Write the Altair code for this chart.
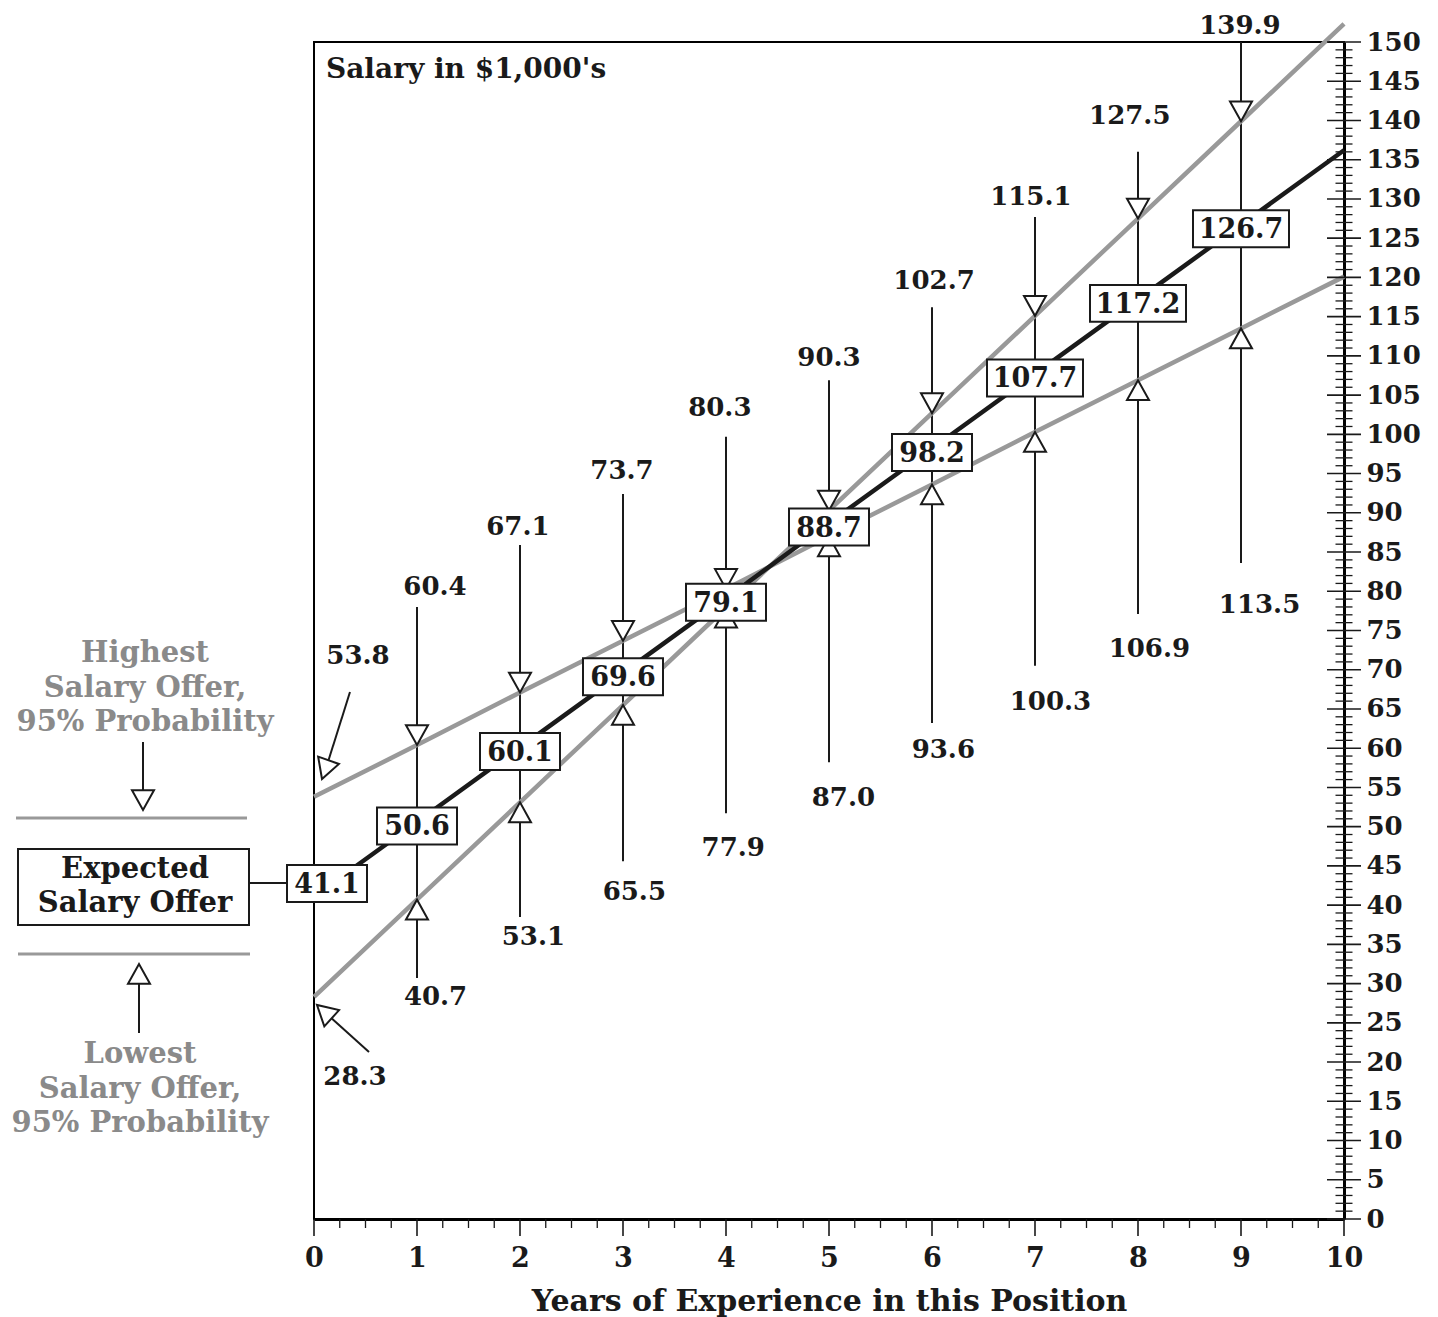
import altair as alt
import pandas as pd

# ---------------- data ----------------
years = [0, 1, 2, 3, 4, 5, 6, 7, 8, 9]
expected = [41.1, 50.6, 60.1, 69.6, 79.1, 88.7, 98.2, 107.7, 117.2, 126.7]
highest = [53.8, 60.4, 67.1, 73.7, 80.3, 90.3, 102.7, 115.1, 127.5, 139.9]
lowest = [28.3, 40.7, 53.1, 65.5, 77.9, 87.0, 93.6, 100.3, 106.9, 113.5]

line_years = [0, 1, 2, 3, 4, 5, 6, 7, 8, 9, 10]
expected_line = [41.1, 50.6, 60.1, 69.6, 79.1, 88.7, 98.2, 107.7, 117.2, 126.7, 136.2]
bound_a = [53.8, 60.4, 67.1, 73.7, 80.3, 87.0, 93.6, 100.3, 106.9, 113.5, 120.1]
bound_b = [28.3, 40.7, 53.1, 65.5, 77.9, 90.3, 102.7, 115.1, 127.5, 139.9, 152.3]

x_tick_labels = [0, 1, 2, 3, 4, 5, 6, 7, 8, 9, 10]
y_tick_labels = list(range(0, 151, 5))

# ---------------- annotation layout (data units) ----------------
up_label_x = [0.427, 1.175, 1.98, 2.99, 3.94, 5.0, 6.02, 6.96, 7.92, 8.99]
up_label_y = [71.7, 80.5, 88.2, 95.3, 103.4, 109.7, 119.5, 130.2, 140.6, 152.1]
low_label_x = [0.398, 1.18, 2.13, 3.11, 4.07, 5.14, 6.11, 7.15, 8.11, 9.18]
low_label_y = [18.1, 28.3, 35.9, 41.7, 47.3, 53.7, 59.8, 65.9, 72.6, 78.2]
rule_top = [78.0, 85.9, 92.4, 99.7, 106.9, 116.2, 127.7, 136.0, 150.0]
rule_bottom = [30.7, 38.5, 45.6, 51.7, 58.2, 63.2, 70.5, 77.1, 83.6]

FONT = "DejaVu Serif"
GRAY = "#999999"
TEXT_GRAY = "#8a8a8a"
INK = "#1a1a1a"
W, H = 1030, 1177

TRI_DOWN = "M-1,-1.8L1,-1.8L0,0Z"
TRI_UP = "M-1,1.8L1,1.8L0,0Z"
BOX4 = "M-1,-0.4625L1,-0.4625L1,0.4625L-1,0.4625Z"
BOX5 = "M-1,-0.385L1,-0.385L1,0.385L-1,0.385Z"

xs = alt.Scale(domain=[0, 10], nice=False, zero=False)
ys = alt.Scale(domain=[0, 150], nice=False, zero=False)

x_axis = alt.Axis(
    values=x_tick_labels, format="d", ticks=False, tickSize=0, grid=False,
    domainColor="black", domainWidth=3,
    labelFont=FONT, labelFontSize=27, labelFontWeight="bold", labelColor=INK,
    labelPadding=26, labelFlush=False, labelOverlap=False,
    title="Years of Experience in this Position", titleFont=FONT,
    titleFontSize=30, titleFontWeight="bold", titleColor=INK, titlePadding=15,
)
y_axis = alt.Axis(
    orient="right", values=y_tick_labels, format="d", ticks=False, tickSize=0,
    grid=False, domainColor="black", domainWidth=3,
    labelFont=FONT, labelFontSize=26, labelFontWeight="bold", labelColor=INK,
    labelPadding=22, labelFlush=False, labelOverlap=False, title=None,
)


def X(f):
    return alt.X(f"{f}:Q", scale=xs, axis=x_axis)


def Y(f):
    return alt.Y(f"{f}:Q", scale=ys, axis=y_axis)


fmt = lambda v: f"{v:.1f}"

# ---------------- tables ----------------
df_bounds = pd.DataFrame({
    "year": line_years + line_years,
    "value": bound_a + bound_b,
    "series": ["a"] * len(line_years) + ["b"] * len(line_years),
})
df_exp = pd.DataFrame({"year": line_years, "value": expected_line})
df_ann = pd.DataFrame({
    "year": years[1:], "high": highest[1:], "low": lowest[1:],
    "top": rule_top, "bottom": rule_bottom,
})
df_box = pd.DataFrame({"year": years, "value": expected,
                       "label": [fmt(v) for v in expected]})
df_up = pd.DataFrame({"x": up_label_x, "y": up_label_y,
                      "label": [fmt(v) for v in highest]})
df_low = pd.DataFrame({"x": low_label_x, "y": low_label_y,
                       "label": [fmt(v) for v in lowest]})
minor_y = pd.DataFrame({"v": [v for v in range(0, 151) if v % 5 != 0]})
major_y = pd.DataFrame({"v": y_tick_labels})
major_x = pd.DataFrame({"v": x_tick_labels})
minor_x = pd.DataFrame({"v": [i / 4 for i in range(0, 41) if i % 4 != 0]})
one = pd.DataFrame({"a": [0]})

layers = []

# vertical guide rules
layers.append(alt.Chart(df_ann).mark_rule(color=INK, strokeWidth=2).encode(
    x=X("year"), y=Y("top"), y2="bottom:Q"))

# bound lines and expected line
layers.append(alt.Chart(df_bounds).mark_line(color=GRAY, strokeWidth=4.5).encode(
    x=X("year"), y=Y("value"), detail="series:N"))
layers.append(alt.Chart(df_exp).mark_line(color=INK, strokeWidth=4.5).encode(
    x=X("year"), y=Y("value")))

# triangles
tri_style = dict(filled=True, fill="white", stroke=INK, strokeWidth=2, opacity=1, size=484)
layers.append(alt.Chart(df_ann).mark_point(shape=TRI_DOWN, **tri_style).encode(
    x=X("year"), y=Y("high")))
layers.append(alt.Chart(df_ann).mark_point(shape=TRI_UP, **tri_style).encode(
    x=X("year"), y=Y("low")))

# expected value boxes
box_style = dict(filled=True, fill="white", stroke=INK, strokeWidth=2, opacity=1)
box_base = alt.Chart(df_box)
layers.append(box_base.transform_filter("datum.year > 0 && length(datum.label) == 4")
              .mark_point(shape=BOX4, size=6400, yOffset=4, **box_style)
              .encode(x=X("year"), y=Y("value")))
layers.append(box_base.transform_filter("datum.year > 0 && length(datum.label) == 5")
              .mark_point(shape=BOX5, size=9216, yOffset=4, **box_style)
              .encode(x=X("year"), y=Y("value")))
layers.append(box_base.transform_filter("datum.year == 0")
              .mark_point(shape=BOX4, size=6400, xOffset=13, yOffset=-13, **box_style)
              .encode(x=X("year"), y=Y("value")))
txt_style = dict(font=FONT, fontSize=26, fontWeight="bold", color=INK,
                 align="center", baseline="middle")
box_txt_style = dict(txt_style, fontSize=27)
layers.append(box_base.transform_filter("datum.year > 0")
              .mark_text(yOffset=5.5, **box_txt_style)
              .encode(x=X("year"), y=Y("value"), text="label:N"))
layers.append(box_base.transform_filter("datum.year == 0")
              .mark_text(xOffset=13, yOffset=-11.5, **box_txt_style)
              .encode(x=X("year"), y=Y("value"), text="label:N"))

# high / low value labels
layers.append(alt.Chart(df_up).mark_text(**txt_style).encode(
    x=X("x"), y=Y("y"), text="label:N"))
layers.append(alt.Chart(df_low).mark_text(**txt_style).encode(
    x=X("x"), y=Y("y"), text="label:N"))

# axis ticks drawn as rules
layers.append(alt.Chart(major_y).mark_rule(color=INK, strokeWidth=1.6).encode(
    y=Y("v"), x=alt.value(W - 17), x2=alt.value(W + 17)))
layers.append(alt.Chart(minor_y).mark_rule(color=INK, strokeWidth=1.3).encode(
    y=Y("v"), x=alt.value(W - 8.5), x2=alt.value(W + 8.5)))
layers.append(alt.Chart(major_x).mark_rule(color=INK, strokeWidth=1.6).encode(
    x=X("v"), y=alt.value(H), y2=alt.value(H + 17)))
layers.append(alt.Chart(minor_x).mark_rule(color=INK, strokeWidth=1.3).encode(
    x=X("v"), y=alt.value(H), y2=alt.value(H + 9)))


# ---------------- free annotations (pixel positions, plot-relative) ----------------
def text(s, x, y, color=INK, size=29, align="center", baseline="alphabetic"):
    return alt.Chart(one).mark_text(
        text=s, font=FONT, fontSize=size, fontWeight="bold", color=color,
        align=align, baseline=baseline).encode(x=alt.value(x), y=alt.value(y))


def line(x1, y1, x2, y2, color=INK, width=2):
    return alt.Chart(one).mark_rule(color=color, strokeWidth=width).encode(
        x=alt.value(x1), y=alt.value(y1), x2=alt.value(x2), y2=alt.value(y2))


def tri(shape, x, y, angle=0):
    return alt.Chart(one).mark_point(shape=shape, angle=angle, **tri_style).encode(
        x=alt.value(x), y=alt.value(y))


# diagonal arrows for year 0
layers.append(line(36, 650, 14.6, 718))
layers.append(tri(TRI_DOWN, 8, 737, angle=19.3))
layers.append(line(55, 1010, 17.8, 976.4))
layers.append(tri(TRI_DOWN, 3, 963, angle=132.1))

# left legend
for s, yy in [("Highest", 620), ("Salary Offer,", 655), ("95% Probability", 689)]:
    layers.append(text(s, -169, yy, color=TEXT_GRAY))
layers.append(line(-171, 700, -171, 748))
layers.append(tri(TRI_DOWN, -171, 768))
layers.append(line(-298, 776, -67, 776, color=GRAY, width=3))

layers.append(alt.Chart(one).mark_rect(fill="white", stroke=INK, strokeWidth=2).encode(
    x=alt.value(-296), x2=alt.value(-65), y=alt.value(807), y2=alt.value(883)))
layers.append(text("Expected", -179, 836))
layers.append(text("Salary Offer", -179, 870))
layers.append(line(-65, 841, -28, 841))

layers.append(line(-296, 912, -64, 912, color=GRAY, width=3))
layers.append(tri(TRI_UP, -175, 922))
layers.append(line(-175, 941, -175, 991))
for s, yy in [("Lowest", 1021), ("Salary Offer,", 1056), ("95% Probability", 1090)]:
    layers.append(text(s, -174, yy, color=TEXT_GRAY))

# chart caption inside the frame
layers.append(text("Salary in $1,000's", 12, 36, size=28, align="left"))

chart = alt.layer(*layers).properties(
    width=W, height=H,
    padding={"left": 306, "top": 34, "right": 84, "bottom": 100},
    autosize=alt.AutoSizeParams(type="none"),
).configure_view(stroke="black", strokeWidth=2)

chart.save("out.html", embed_options={"renderer": "svg", "actions": False})
